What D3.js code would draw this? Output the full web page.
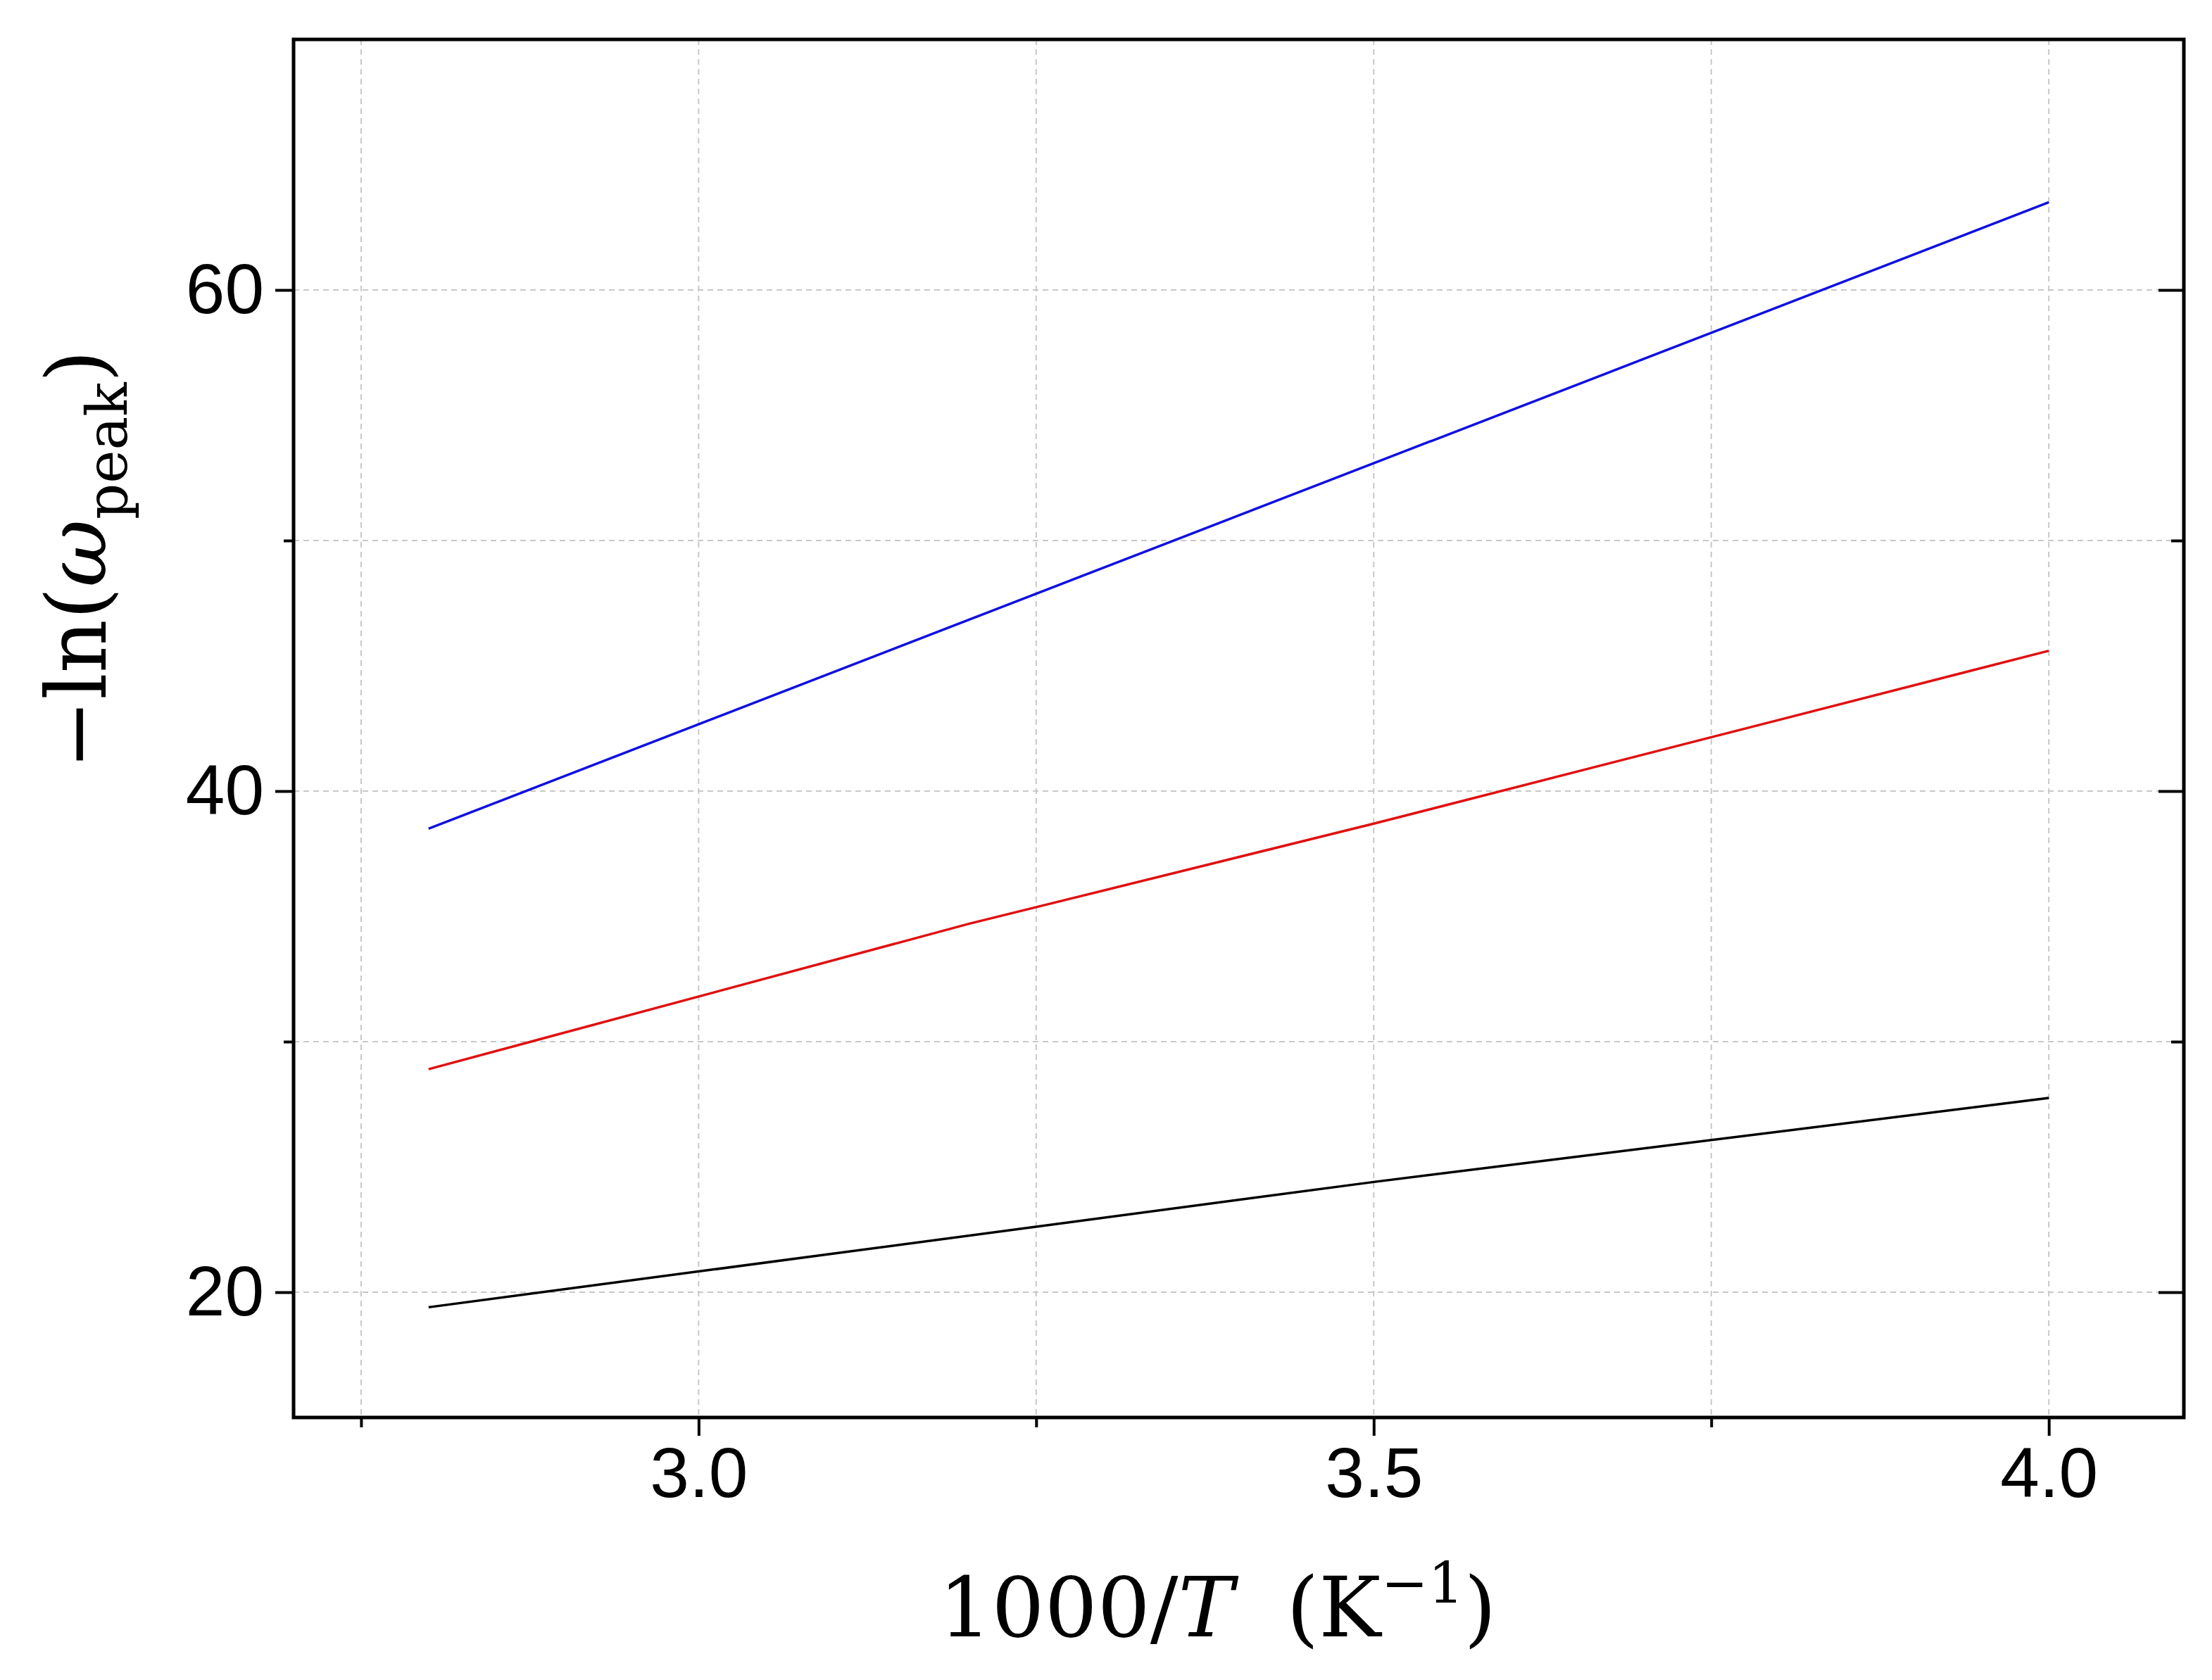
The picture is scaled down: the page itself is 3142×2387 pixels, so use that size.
<!DOCTYPE html>
<html>
<head>
<meta charset="utf-8">
<script src="https://cdn.jsdelivr.net/npm/d3@7"></script>
<style>
  body { margin: 0; background: #fff; }
</style>
</head>
<body>
<div id="chart"></div>
<script>
// data
var xsBlue = [2.8, 4.0];
var ysBlue = [38.5, 63.5];
var xsRed = [2.8, 3.2, 3.5, 4.0];
var ysRed = [28.9, 34.7, 38.7, 45.6];
var xsBlack = [2.8, 3.5, 4.0];
var ysBlack = [19.4, 24.4, 27.75];
var xMajor = [3.0, 3.5, 4.0];
var xMinor = [2.75, 3.25, 3.75];
var yMajor = [20, 40, 60];
var yMinor = [30, 50];

var width = 3142, height = 2387;
var mLeft = 417, mRight = 3102, mTop = 56, mBottom = 2014;

var svg = d3.select("#chart").append("svg")
  .attr("width", width).attr("height", height);

var x = d3.scaleLinear().domain([2.7, 4.1]).range([mLeft, mRight]);
var y = d3.scaleLinear().domain([15, 70]).range([mBottom, mTop]);

// grid
var grid = svg.append("g").attr("stroke", "#c8c8c8").attr("stroke-width", 2).attr("stroke-dasharray", "8,6");
xMajor.concat(xMinor).forEach(function(v) {
  grid.append("line").attr("x1", x(v)).attr("x2", x(v)).attr("y1", mTop).attr("y2", mBottom);
});
yMajor.concat(yMinor).forEach(function(v) {
  grid.append("line").attr("x1", mLeft).attr("x2", mRight).attr("y1", y(v)).attr("y2", y(v));
});

// lines
var line = d3.line().x(function(d) { return x(d[0]); }).y(function(d) { return y(d[1]); });
[[xsBlue, ysBlue, "#1010e0"], [xsRed, ysRed, "#e01010"], [xsBlack, ysBlack, "#000"]].forEach(function(s) {
  svg.append("path").datum(d3.zip(s[0], s[1])).attr("d", line)
    .attr("fill", "none").attr("stroke", s[2]).attr("stroke-width", 3.5);
});

// axes
var xAxis = d3.axisBottom(x).tickValues(xMajor).tickFormat(d3.format(".1f")).tickSize(26).tickPadding(16);
svg.append("g").attr("transform", "translate(0," + mBottom + ")").call(xAxis);
svg.append("g").attr("transform", "translate(0," + mBottom + ")")
  .call(d3.axisBottom(x).tickValues(xMinor).tickFormat("").tickSize(14));

var yAxis = d3.axisLeft(y).tickValues(yMajor).tickSize(26).tickPadding(16);
svg.append("g").attr("transform", "translate(" + mLeft + ",0)").call(yAxis);
svg.append("g").attr("transform", "translate(" + mLeft + ",0)")
  .call(d3.axisLeft(y).tickValues(yMinor).tickFormat("").tickSize(14));
svg.append("g").attr("transform", "translate(" + mRight + ",0)")
  .call(d3.axisRight(y).tickValues(yMajor).tickFormat("").tickSize(-36));
svg.append("g").attr("transform", "translate(" + mRight + ",0)")
  .call(d3.axisRight(y).tickValues(yMinor).tickFormat("").tickSize(-18));

svg.selectAll(".domain").remove();
svg.selectAll(".tick line").attr("stroke", "#000").attr("stroke-width", 4);
svg.selectAll(".tick text").attr("font-family", "Liberation Sans, Arial, sans-serif")
  .attr("font-size", 100).attr("fill", "#000");

svg.append("rect").attr("x", mLeft).attr("y", mTop).attr("width", mRight - mLeft).attr("height", mBottom - mTop)
  .attr("fill", "none").attr("stroke", "#000").attr("stroke-width", 5);

// labels
var xl = svg.append("text").attr("x", (mLeft + mRight) / 2 - 30).attr("y", 2325)
  .attr("text-anchor", "middle").attr("font-family", "DejaVu Serif, serif").attr("font-size", 118);
xl.append("tspan").text("1000/");
xl.append("tspan").attr("font-style", "italic").text("T");
xl.append("tspan").text("\u00a0\u00a0(K");
xl.append("tspan").attr("font-size", 80).attr("dy", -48).text("−1");
xl.append("tspan").attr("dy", 48).text(")");

var yl = svg.append("text").attr("transform", "translate(150," + ((mTop + mBottom) / 2 - 240) + ") rotate(-90)")
  .attr("text-anchor", "middle").attr("font-family", "DejaVu Serif, serif").attr("font-size", 118);
yl.append("tspan").text("−ln(");
yl.append("tspan").attr("font-style", "italic").text("ω");
yl.append("tspan").attr("font-size", 80).attr("dy", 30).text("peak");
yl.append("tspan").attr("dy", -30).text(")");
</script>
</body>
</html>
